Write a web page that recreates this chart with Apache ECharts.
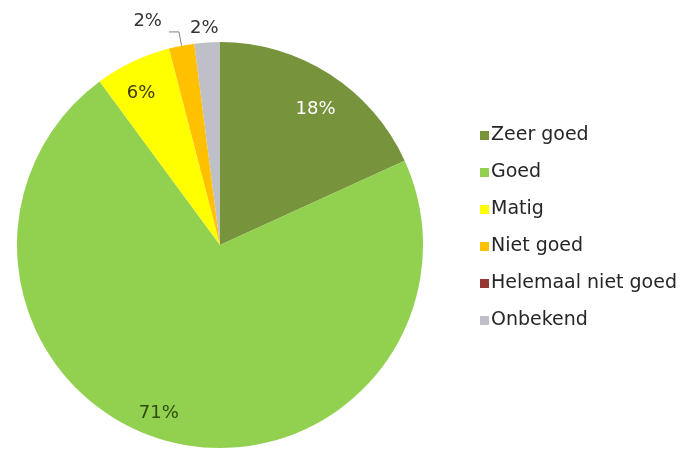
<!DOCTYPE html>
<html><head><meta charset="utf-8">
<script src="https://cdn.jsdelivr.net/npm/echarts@6/dist/echarts.min.js"></script>
<style>html,body{margin:0;padding:0;background:#fff}#c{width:686px;height:452px}</style>
</head><body><div id="c"></div>
<script>
var categories = ['Zeer goed', 'Goed', 'Matig', 'Niet goed', 'Helemaal niet goed', 'Onbekend'];
var values = [18, 71, 6, 2, 0, 2];
var colors = ['#77933C', '#92D050', '#FFFF00', '#FFC000', '#953735', '#BFBFC8'];

var labelStyles = [
  {position: 'inside', color: '#ffffff', offset: [39, -48]},
  {position: 'inside', color: '#2e4a10', offset: [-35, 67]},
  {position: 'inside', color: '#3a3a10', offset: [-34, -57]},
  {position: 'outside', color: '#333333', line: true, offset: [-2, -11]},
  {show: false},
  {position: 'outside', color: '#333333', line: false, offset: [19, -6]}
];

var data = categories.map(function (name, i) {
  var ls = labelStyles[i];
  var item = {name: name, value: values[i], itemStyle: {color: colors[i]}};
  if (ls.show === false) {
    item.label = {show: false};
    item.labelLine = {show: false};
  } else {
    item.label = {show: true, position: ls.position, color: ls.color, offset: ls.offset};
    if (ls.position === 'outside') {
      item.labelLine = ls.line ? {show: true, length: 14, length2: 10, lineStyle: {color: '#808080', width: 1}} : {show: false, length: 8, length2: 2};
    }
  }
  return item;
});

var chart = echarts.init(document.getElementById('c'));
chart.setOption({
  animation: false,
  legend: {
    orient: 'vertical',
    left: 475,
    top: 121,
    itemWidth: 9,
    itemHeight: 9,
    itemGap: 18,
    icon: 'rect',
    data: categories,
    textStyle: {fontFamily: 'DejaVu Sans', fontSize: 19, color: '#262626', lineHeight: 19, padding: [0, 0, 0, -3]}
  },
  series: [{
    type: 'pie',
    center: [220, 245],
    radius: 203,
    startAngle: 90,
    clockwise: true,
    avoidLabelOverlap: false,
    label: {fontFamily: 'DejaVu Sans', fontSize: 18, formatter: '{c}%'},
    itemStyle: {borderWidth: 0},
    emphasis: {disabled: true},
    data: data
  }]
});
</script></body></html>
